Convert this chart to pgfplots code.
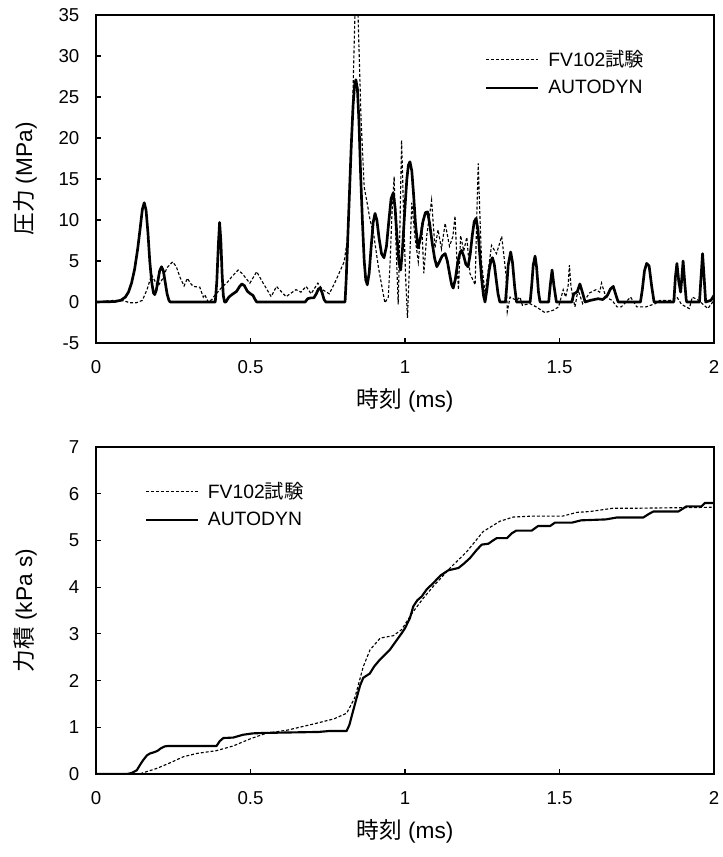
\documentclass[border=0pt]{standalone}
\usepackage{fontspec}
\setmainfont{Liberation Sans}
\newfontfamily\jp{Noto Sans CJK JP}
\usepackage{pgfplots}
\pgfplotsset{compat=1.18}

\pgfplotsset{
  chartbox/.style={
    scale only axis,
    width=463.5pt,
    xmin=0, xmax=2,
    xtick={0,0.5,1,1.5,2},
    tick align=inside,
    xtick pos=lower, ytick pos=left,
    major tick length=4pt,
    axis line style={line width=0.9pt},
    every tick/.style={line width=0.9pt, black},
    /pgf/number format/assume math mode=true,
    tick label style={font=\fontsize{14}{16}\selectfont},
    xticklabel style={yshift=-9.5pt},
    yticklabel style={xshift=-9pt},
    every axis x label/.style={at={(axis description cs:0.5,0)}, anchor=center,
      yshift=-43pt, font=\fontsize{17}{20}\selectfont},
    every axis y label/.style={at={(axis description cs:-0.115,0.5)}, anchor=center,
      rotate=90, font=\fontsize{17}{20}\selectfont},
    legend style={draw=none, fill=none, inner sep=0pt, row sep=4.5pt,
      font=\fontsize{14.5}{17}\selectfont,
      cells={anchor=west},
      /tikz/every odd column/.style={column sep=4.5pt}},
    legend image code/.code={\draw[#1] (0pt,0pt) -- (39pt,0pt);},
    legend cell align=left,
  },
  testline/.style={black, line width=0.85pt, dash pattern=on 2.2pt off 1.5pt},
  simline/.style={black, line width=2pt, line join=round},
}

\begin{document}
\begin{tikzpicture}[font=\fontsize{14}{16}\selectfont]
\useasboundingbox (0,0) rectangle (542.25pt,642.75pt);

% 圧力履歴
\begin{axis}[chartbox,
  at={(72pt,385.5pt)}, anchor=south west,
  height=246pt,
  ymin=-5, ymax=35, ytick={-5,0,...,35},
  xlabel={{\jp 時刻} (ms)},
  ylabel={{\jp 圧力} (MPa)},
  legend style={at={(0.629,0.9)}, anchor=north west},
]
\addplot[testline] coordinates {
(0,0) (0.03,0.1) (0.06,0.2) (0.09,0.15) (0.11,-0.1) (0.13,-0.1) (0.15,0.2)
(0.165,1.5) (0.18,3.3) (0.19,2.6) (0.2,1.9) (0.215,2.8) (0.23,4.2) (0.248,4.9)
(0.26,4.3) (0.272,3) (0.285,1.95) (0.296,2.9) (0.305,2.3) (0.315,1.9) (0.336,1.8)
(0.347,0.6) (0.352,0.9) (0.363,0) (0.375,0.3) (0.384,0.8) (0.41,1.9) (0.425,2.4)
(0.44,3.1) (0.46,3.9) (0.475,3.4) (0.487,2.8) (0.498,2.3) (0.52,3.7) (0.541,2.3)
(0.567,0.65) (0.584,1.9) (0.615,0.65) (0.647,1.5) (0.663,1.2) (0.68,1.9)
(0.696,1.0) (0.718,2.3) (0.733,1.5) (0.755,1.0) (0.776,2.6) (0.803,4.9)
(0.815,8) (0.828,20) (0.838,35) (0.843,42) (0.848,35) (0.858,22) (0.868,14)
(0.876,12.4) (0.887,10) (0.898,8.4) (0.915,4) (0.935,-0.1) (0.946,0.6) (0.952,5)
(0.958,11) (0.965,15.3) (0.97,8) (0.978,-0.3) (0.983,8) (0.989,19.75) (0.996,10)
(1.002,3) (1.008,-1.95) (1.015,5) (1.022,12.1) (1.032,8) (1.043,4.9) (1.054,9.6)
(1.061,3.5) (1.07,8) (1.086,12.4) (1.097,6.6) (1.107,8.8) (1.118,6.5) (1.13,9.6)
(1.144,6.8) (1.155,8) (1.162,10.5) (1.168,5) (1.173,1.5) (1.18,8.1) (1.19,6.2)
(1.2,7.9) (1.21,3.5) (1.227,2.1) (1.232,10) (1.237,16.9) (1.242,11) (1.248,4.7)
(1.259,1.1) (1.27,4) (1.28,6.9) (1.296,5.9) (1.313,8.0) (1.322,5) (1.327,3.3)
(1.331,-1.2) (1.34,0.6) (1.361,0.2) (1.372,0.6) (1.38,-0.4) (1.404,-0.2)
(1.425,-0.6) (1.453,-1.3) (1.48,-1.0) (1.497,-0.6) (1.512,1.5) (1.52,0.6)
(1.528,2) (1.532,4.5) (1.537,2) (1.543,0.6) (1.55,-0.6) (1.56,1.5) (1.575,-0.2)
(1.597,1.1) (1.618,1.5) (1.63,1.2) (1.636,2.3) (1.65,0.6) (1.67,0.2) (1.686,-0.6)
(1.7,-0.6) (1.73,0.6) (1.75,-0.6) (1.78,-0.6) (1.81,-0.2) (1.825,0.2) (1.86,0.2)
(1.88,0.6) (1.895,-0.3) (1.92,-0.8) (1.93,0.6) (1.95,0.2) (1.98,-0.8) (2.0,0.2)
};
\addlegendentry{FV102{\jp 試験}}
\addplot[simline] coordinates {
(0,0) (0.06,0.05) (0.08,0.2) (0.095,0.6) (0.105,1.2) (0.115,2.3) (0.125,4)
(0.135,6.5) (0.143,9) (0.15,11.3) (0.156,12.1) (0.162,11.2) (0.168,8.5)
(0.174,5) (0.18,2.5) (0.186,1.1) (0.19,0.9) (0.195,1.4) (0.2,2.5) (0.206,3.8)
(0.212,4.3) (0.218,3.8) (0.224,2.4) (0.23,1) (0.236,0.2) (0.24,0)
(0.386,0) (0.391,2.5) (0.396,7) (0.40,9.7) (0.404,7.5) (0.408,3.5) (0.412,0.8)
(0.416,0) (0.42,0) (0.43,0.6) (0.44,0.9) (0.455,1.3) (0.465,1.9) (0.472,2.2)
(0.48,2.0) (0.49,1.3) (0.5,1.0) (0.508,0.8) (0.515,0.3) (0.52,0)
(0.677,0) (0.685,0.4) (0.695,0.5) (0.705,0.5) (0.713,1.0) (0.72,1.6) (0.726,1.7)
(0.732,1.1) (0.738,0.3) (0.744,0)
(0.806,0) (0.81,3) (0.815,8) (0.82,13) (0.826,19) (0.832,24) (0.837,26.5)
(0.841,27.1) (0.846,26) (0.851,22) (0.856,16) (0.862,10) (0.868,5) (0.873,2.7)
(0.878,2.1) (0.884,3.5) (0.89,6.5) (0.897,9.7) (0.903,10.8) (0.909,10)
(0.916,7.8) (0.924,5.9) (0.932,5.4) (0.94,6.8) (0.948,10) (0.955,12.6)
(0.962,13.3) (0.968,11.5) (0.974,8) (0.98,5) (0.986,3.9) (0.992,6.5) (0.999,11)
(1.006,15) (1.011,16.7) (1.016,17.1) (1.022,16) (1.028,13) (1.034,9.5)
(1.042,6.6) (1.05,7.8) (1.058,9.8) (1.066,10.9) (1.073,11) (1.08,9.5)
(1.088,7.2) (1.096,5.3) (1.103,4.3) (1.11,4.8) (1.12,5.6) (1.13,5.9) (1.137,5)
(1.145,3.3) (1.151,2.1) (1.156,1.7) (1.163,2.8) (1.171,4.9) (1.178,6)
(1.183,6.3) (1.19,5.6) (1.197,4.6) (1.204,4.3) (1.211,5.8) (1.218,8.2)
(1.224,9.8) (1.23,10.2) (1.236,8.8) (1.242,5.8) (1.248,2.8) (1.254,0.8)
(1.259,0) (1.265,1.5) (1.272,3.8) (1.278,5) (1.283,5.4) (1.289,4.6) (1.295,2.8)
(1.301,1) (1.307,0) (1.325,0) (1.329,1.8) (1.334,4.5) (1.342,6.1) (1.348,4.8)
(1.355,1.8) (1.361,0) (1.405,0) (1.41,2) (1.415,4.5) (1.421,5.6) (1.426,4.2)
(1.432,1.2) (1.437,0) (1.465,0) (1.47,2) (1.476,3.9) (1.482,2) (1.49,0)
(1.54,0) (1.546,1) (1.552,1.1) (1.558,1.3) (1.566,2.2) (1.574,1.2) (1.583,0)
(1.6,0.2) (1.625,0.4) (1.64,0.3) (1.655,0.8) (1.665,1.6) (1.674,1.9)
(1.683,0.8) (1.69,0) (1.762,0) (1.768,1.5) (1.775,3.8) (1.782,4.7) (1.79,4.4)
(1.798,2) (1.806,0) (1.87,0) (1.875,3) (1.88,4.7) (1.886,2.5) (1.892,1.2)
(1.896,3) (1.9,5.0) (1.905,2.5) (1.91,0.3) (1.912,0) (1.953,0) (1.958,3)
(1.963,5.9) (1.968,3) (1.973,0) (1.99,0.2) (2.0,0.8)
};
\addlegendentry{AUTODYN}
\end{axis}

% 力積履歴
\begin{axis}[chartbox,
  at={(72pt,62.25pt)}, anchor=south west,
  height=245.25pt,
  ymin=0, ymax=7, ytick={0,1,...,7},
  xlabel={{\jp 時刻} (ms)},
  ylabel={{\jp 力積} (kPa s)},
  legend style={at={(0.079,0.9)}, anchor=north west},
]
\addplot[testline] coordinates {
(0,0) (0.14,0) (0.197,0.12) (0.24,0.24) (0.283,0.37) (0.326,0.44) (0.39,0.5)
(0.444,0.6) (0.498,0.75) (0.55,0.87) (0.62,0.94) (0.71,1.08) (0.77,1.18)
(0.811,1.3) (0.838,1.64) (0.865,2.3) (0.887,2.66) (0.92,2.91) (0.962,2.96)
(0.989,3.09) (1.016,3.37) (1.027,3.48) (1.06,3.77) (1.092,4.02) (1.146,4.41)
(1.2,4.76) (1.253,5.19) (1.307,5.41) (1.35,5.5) (1.41,5.52) (1.51,5.52)
(1.556,5.6) (1.6,5.62) (1.674,5.69) (1.76,5.69) (2.0,5.71)
};
\addlegendentry{FV102{\jp 試験}}
\addplot[simline, line width=1.6pt] coordinates {
(0,0) (0.1,0) (0.115,0.02) (0.132,0.08) (0.143,0.2) (0.153,0.3) (0.165,0.4)
(0.175,0.44) (0.19,0.47) (0.2,0.5) (0.21,0.55) (0.222,0.59) (0.234,0.6)
(0.39,0.6) (0.4,0.7) (0.412,0.77) (0.444,0.78) (0.46,0.81) (0.476,0.84)
(0.508,0.87) (0.55,0.88) (0.72,0.9) (0.755,0.92) (0.811,0.92) (0.82,1.05)
(0.83,1.3) (0.843,1.62) (0.855,1.9) (0.865,2.06) (0.886,2.15) (0.9,2.3)
(0.919,2.45) (0.951,2.66) (0.978,2.91) (0.99,3.02) (1.0,3.12) (1.016,3.34)
(1.027,3.59) (1.04,3.72) (1.054,3.8) (1.07,3.95) (1.092,4.09) (1.115,4.25)
(1.14,4.36) (1.173,4.41) (1.19,4.5) (1.21,4.62) (1.23,4.78) (1.248,4.91)
(1.27,4.93) (1.285,5.0) (1.297,5.05) (1.33,5.05) (1.345,5.15) (1.36,5.21)
(1.41,5.21) (1.431,5.31) (1.47,5.31) (1.485,5.38) (1.54,5.38) (1.57,5.43)
(1.65,5.45) (1.685,5.49) (1.771,5.49) (1.79,5.57) (1.804,5.62) (1.885,5.62)
(1.911,5.73) (1.96,5.73) (1.97,5.8) (2.0,5.8)
};
\addlegendentry{AUTODYN}
\end{axis}
\end{tikzpicture}
\end{document}
